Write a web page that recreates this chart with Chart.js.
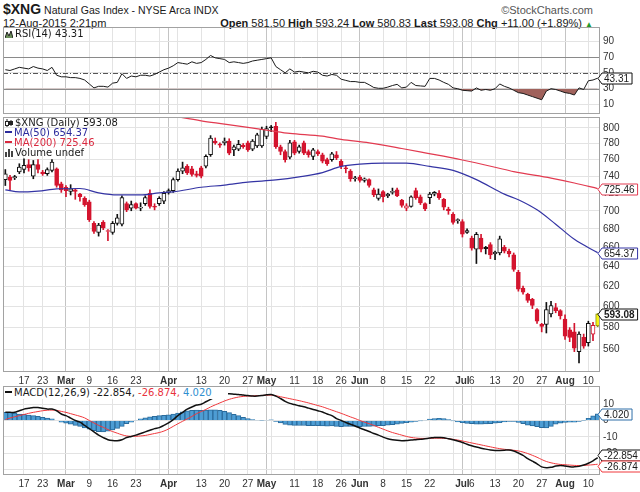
<!DOCTYPE html>
<html>
<head>
<meta charset="utf-8">
<title>$XNG Natural Gas Index</title>
<script src="https://cdn.jsdelivr.net/npm/chart.js@4.4.1/dist/chart.umd.min.js"></script>
<style>
body { margin: 0; background: #fff; }
#page { position: relative; width: 640px; height: 492px; overflow: hidden; font-family: "Liberation Sans", Arial, sans-serif; color: #1a1a1a; }
#page canvas { position: absolute; left: 0; }
.txt { position: absolute; white-space: nowrap; }
.leg { position: absolute; white-space: nowrap; font: 10px/10px "DejaVu Sans", sans-serif; color: #1a1a1a; z-index: 2; }
.leg svg { vertical-align: -1px; margin-right: 2px; }
.ln { display: inline-block; width: 7px; height: 2px; vertical-align: 3px; margin-right: 2px; }
</style>
</head>
<body>
<div id="page">
  <div class="txt" style="left:3px;top:1px;font-size:10.5px;"><b style="font-size:14px;">$XNG</b> Natural Gas Index - NYSE Arca INDX</div>
  <div class="txt" style="right:47px;top:4px;font-size:11px;color:#555;">©StockCharts.com</div>
  <div class="txt" style="left:3px;top:17px;font-size:11px;">12-Aug-2015 2:21pm</div>
  <div class="txt" style="right:47px;top:17px;font-size:11px;"><b>Open</b> 581.50 <b>High</b> 593.24 <b>Low</b> 580.83 <b>Last</b> 593.08 <b>Chg</b> +11.00 (+1.89%) <span style="color:#1e9a2c;font-size:8px;">▲</span></div>

  <canvas id="rsiChart" width="640" height="87" style="top:27px"></canvas>
  <canvas id="priceChart" width="640" height="270" style="top:117px"></canvas>
  <canvas id="macdChart" width="640" height="106" style="top:386px"></canvas>

  <div class="leg" style="left:5px;top:29px;">
    <svg width="8" height="8"><polyline points="0,8 2,2 4,6 6,1 8,8" fill="#6b8e5a" stroke="#222" stroke-width="1"/></svg>RSI(14) 43.31
  </div>
  <div class="leg" style="left:5px;top:118px;">
    <div><svg width="8" height="8"><line x1="2" y1="0" x2="2" y2="8" stroke="#222"/><rect x="0.5" y="2.5" width="3" height="4" fill="#fff" stroke="#222"/><line x1="6" y1="1" x2="6" y2="7" stroke="#222"/><rect x="4.5" y="2.5" width="3" height="3" fill="#222" stroke="#222"/></svg>$XNG (Daily) 593.08</div>
    <div style="color:#2b2b9c;"><span class="ln" style="background:#2b2b9c"></span>MA(50) 654.37</div>
    <div style="color:#d9283e;"><span class="ln" style="background:#d9283e"></span>MA(200) 725.46</div>
    <div><svg width="8" height="8"><rect x="0" y="3" width="2" height="5" fill="#444"/><rect x="3" y="0" width="2" height="8" fill="#444"/><rect x="6" y="2" width="2" height="6" fill="#444"/></svg>Volume undef</div>
  </div>
  <div class="leg" style="left:4px;top:387px;width:224px;height:12px;background:#fff;padding:1px 0 0 1px;box-sizing:border-box;">
    <span class="ln" style="background:#111"></span>MACD(12,26,9) -22.854, <span style="color:#e8323c">-26.874,</span> <span style="color:#2f8fd0">4.020</span>
  </div>
</div>

<script>
// --- trading days (categories) ---
const monthKeys = ['2015-02', '2015-03', '2015-04', '2015-05', '2015-06', '2015-07', '2015-08'];
const monthDays = [
  [10, 11, 12, 13, 17, 18, 19, 20, 23, 24, 25, 26, 27],
  [2, 3, 4, 5, 6, 9, 10, 11, 12, 13, 16, 17, 18, 19, 20, 23, 24, 25, 26, 27, 30, 31],
  [1, 2, 6, 7, 8, 9, 10, 13, 14, 15, 16, 17, 20, 21, 22, 23, 24, 27, 28, 29, 30],
  [1, 4, 5, 6, 7, 8, 11, 12, 13, 14, 15, 18, 19, 20, 21, 22, 26, 27, 28, 29],
  [1, 2, 3, 4, 5, 8, 9, 10, 11, 12, 15, 16, 17, 18, 19, 22, 23, 24, 25, 26, 29, 30],
  [1, 2, 6, 7, 8, 9, 10, 13, 14, 15, 16, 17, 20, 21, 22, 23, 24, 27, 28, 29, 30, 31],
  [3, 4, 5, 6, 7, 10, 11, 12]
];

// x axis tick labels
const tickDates = ['2015-02-17', '2015-02-23', '2015-03-02', '2015-03-09', '2015-03-16', '2015-03-23',
  '2015-04-01', '2015-04-13', '2015-04-20', '2015-04-27', '2015-05-01', '2015-05-11', '2015-05-18',
  '2015-05-26', '2015-06-01', '2015-06-08', '2015-06-15', '2015-06-22', '2015-07-01', '2015-07-06',
  '2015-07-13', '2015-07-20', '2015-07-27', '2015-08-03', '2015-08-10'];
const tickTexts = ['17', '23', 'Mar', '9', '16', '23', 'Apr', '13', '20', '27', 'May', '11', '18',
  '26', 'Jun', '8', '15', '22', 'Jul', '6', '13', '20', '27', 'Aug', '10'];

// --- price (OHLC) ---
const opens = [736,739,738,745,748,754,740,754,745,743, 747,749,731,727,722,724,719,714,710,686,
  676,687,677,676,686,685,708,703,708,703, 708,720,705,708,711,721,723,736,746,752,
  749,743,750,752,766,783,779,781,783,772, 773,778,781,773,777,777,789,801,802,776,
  770,763,782,770,781,770,764,770,766,760, 760,766,758,750,746,737,739,735,736,724,
  714,722,717,721,724,712,703,705,723,716, 708,715,719,720,713,702,696,689,688,676,
  670,658,670,660,663,653,654,660,656,652, 634,618,612,607,597,583,583,593,599,596,
  588,578,576,558,571,566,574,581.50];
const highs = [748,741,741,755,761,760,759,760,747,750, 760,750,733,729,730,725,720,716,712,688,
  686,689,679,688,696,717,710,711,709,709, 717,724,708,716,722,725,738,749,757,754,
  752,746,752,766,790,787,781,787,786,778, 784,780,783,785,793,801,802,803,807,778,
  772,784,784,778,783,772,774,772,768,762, 769,770,760,752,748,740,741,738,737,726,
  725,723,720,726,726,713,708,717,726,718, 709,721,722,723,714,704,698,691,690,680,
  672,676,674,661,665,656,672,662,658,654, 636,620,613,608,598,584,604,605,603,597,
  592,580,584,576,574,586,585,593.24];
const lows = [729,724,736,743,744,746,737,744,741,741, 745,727,721,716,718,713,711,705,688,675,
  672,679,667,674,684,683,699,700,702,700, 706,703,701,706,708,719,721,734,743,742,
  740,739,738,750,764,779,775,778,766,765, 771,774,770,771,775,775,786,795,774,766,
  757,761,766,768,766,763,760,765,756,753, 758,760,749,744,734,734,733,733,727,716,
  712,710,715,719,716,704,700,704,713,707, 700,708,717,713,701,696,685,686,671,675,
  657,643,655,653,648,647,652,654,650,635, 615,612,604,598,584,576,575,590,594,588,
  569,567,558,548,561,563,568,580.83];
const closes = [743,735,739.5,751,753,750,754,748,743,748, 757,729,724,723,725,722,716,707,690,677,
  684,681,678,686,692,715,701,707,703,704, 715,705,704,714,720,723,736,746,750,744,
  742,741,740,764,787,781,778,783,768,776, 779,776,772,783,791,798,799,800,776,770,
  760,781,768,776,768,766,772,767,758,755, 767,762,752,749,737,738,735,737,729,718,
  719,716,719,722,717,706,705.5,716,715,709, 702,719,721,715,704,700,687,690,674,678,
  659,674,658,658.5,652,655,669,656,653,637, 617,614,606,601,586,581,597,601,596,591,
  572,571,561,574,563,584,582.08,593.08];
const priceTicks = [560, 580, 600, 620, 640, 660, 680, 700, 720, 740, 760, 780, 800];

// moving averages, read at [day index, value]
const ma50Pts = [[0,724],[3,721.5],[7,722.5],[11,725],[16,725.5],[20,720.5],[24,718],[29,718],[33,720.5],
  [36,721.5],[42,727],[47,729.5],[52,733],[58,735.6],[63,739.2],[68,744.3],[72,751.8],[76,754.5],
  [81,755.7],[86,755.7],[91,751.8],[96,747],[101,736],[107,719],[110,712.5],[114,701],[118,685],
  [122,668.5],[127,654.37]];
const ma200Pts = [[36,815.2],[42,809],[47,804.8],[52,800.5],[57,796.1],[61,792.8],[68,789.3],[72,785.1],
  [78,780.8],[85,773.8],[90,768.4],[98,759.6],[105,750.8],[109,745.5],[117,737.8],[122,732],[127,725.46]];

// --- RSI(14) ---
const rsi = [54,53,55,57,56,55,58,56,55,53, 57,47,45,45,44,44,43,41,36,31,
  33,33,32,37,38,49,43,46,45,47, 47,46,48,51,54,56,59,63,62,61,
  64,62,63,67,72,69,68,67,63,64, 63,62,63,65,66,67,68,69,58,54,
  50,55,51,52,51,50,52,51,47,46, 48,47,42,40.5,39,39,38,38,35,31.5,
  30.5,30.5,32,34,35.5,31,32,38,34,33.5, 33,43,43,41,38,35.5,31,30,28,27.5,
  27,31,28,29,28,30,36,33,31,28, 25,24,22,20,18,16,27,30,29,27,
  25,24,22,31,29,40,41,43.31];
const rsiTicks = [10, 30, 50, 70, 90];

// --- MACD(12,26,9) ---
const macd = [5,5,5,6,7,7.5,8,8,7.5,7, 7,6,4,3,1.5,0,-1,-3,-5,-7,
  -9,-10.5,-11.8,-12.3,-12.4,-11.8,-10.5,-9.8,-9,-8, -7,-6,-5,-4.4,-3,-1.5,0.5,3,5,7,
  8.3,9.5,10,11.5,13,14.5,15.5,16.3,16.4,16.2, 16,15.6,15.3,15,15,15.3,15.8,16,15,13.5,
  11.8,10.5,9.8,9,8.4,7.6,6.8,6,5.2,4, 3,1.2,0,-1.2,-2.3,-3.4,-4.6,-5.7,-6.8,-8,
  -9,-10.2,-11.2,-11.8,-12.2,-12.4,-12.3,-12,-11.8,-11.6, -11.2,-10.8,-10.4,-10.5,-10.6,-11.2,-11.8,-12.6,-13.5,-14.6,
  -15.5,-16.3,-17,-17.6,-18.1,-18.4,-18.4,-18.3,-18.1,-18.8, -20,-21.5,-23.4,-25,-26.6,-28.5,-29,-28.8,-28,-27.6,
  -28,-28.4,-28.5,-28.2,-27.4,-26.3,-24.8,-22.854];
const signal = [0.6,1.5,2.3,3,3.7,4.4,5,5.5,6,6.3, 6.4,6.2,5.6,5,4.2,3.4,2.6,1.6,0,-1.5,
  -3,-4.2,-5.6,-6.8,-7.8,-8.8,-9.5,-9.7,-9.7,-9.5, -9.2,-8.6,-8,-7.4,-6.5,-5.2,-3.6,-2,-0.5,1,
  2.5,4.2,5.5,6.8,8.3,9.6,10.8,12,13,13.8, 14.4,14.8,15,15.1,15.3,15.4,15.5,15.6,15.2,14.6,
  14,13.4,12.8,12.2,11.5,10.8,10,9.2,8.4,7.4, 6.4,5.4,4.4,3.3,2.2,1.2,0,-1,-2,-3,
  -4.2,-5.3,-6.4,-7.4,-8.2,-9,-9.8,-10.4,-10.8,-11, -11,-11,-10.9,-10.9,-11,-11.2,-11.6,-12,-12.6,-13.2,
  -13.8,-14.4,-15,-15.6,-16.2,-16.8,-17.3,-17.7,-18,-18.3, -18.7,-19.4,-20.3,-21.4,-22.6,-24,-25.2,-26,-26.6,-27,
  -27.2,-27.4,-27.6,-27.7,-27.6,-27.4,-27.2,-26.874];
const hist = [5,5,4.5,4,3.8,3.4,3,2.6,2,1.5, 1,0,-1,-1.6,-2.2,-3,-3.6,-4.6,-5.4,-6.2,
  -6.8,-7,-6.6,-5.8,-4.8,-3.6,-2,-1,0.3,1, 1.6,2.2,2.6,3,3.2,3.5,4,4.6,5.4,6,
  6.2,6.4,6.2,6.4,6.6,6.6,6.2,5.6,4.8,3.8, 3,2,1.2,0.6,0.3,0.2,0.3,0.4,-0.5,-1.5,
  -2.4,-2.9,-3,-3.1,-3.1,-3.2,-3.2,-3.2,-3.3,-3.5, -3.4,-3.6,-3.8,-3.6,-3.6,-3.6,-3.8,-3.7,-3.6,-3.5,
  -3.2,-3.2,-2.8,-2.6,-2.2,-1.8,-1.4,-1,-0.6,-0.2, 0.3,0.8,1.2,1.4,1.1,0.6,-0.2,-0.8,-1.4,-1.8,
  -2,-2.2,-2.2,-2.1,-2,-1.7,-1.3,-0.8,-0.5,-0.6, -1.2,-2,-2.8,-3.4,-3.8,-4.4,-4.6,-3.6,-2.2,-1.6,
  -1.2,-1,-1,-0.6,0.2,1.4,2.8,4.02];
const macdTicks = [-30, -20, -10, 0, 10];

// ---------------------------------------------------------------
const dates = [];
monthKeys.forEach((m, k) => monthDays[k].forEach(d => dates.push(m + '-' + String(d).padStart(2, '0'))));
const N = dates.length;

const dow = dates.map(d => new Date(d + 'T00:00:00Z').getUTCDay());
// 2 = first day of month, 1 = first day of week
const gridKind = dates.map((d, i) => {
  if (i === 0) return 0;
  if (d.slice(0, 7) !== dates[i - 1].slice(0, 7)) return 2;
  return dow[i] < dow[i - 1] ? 1 : 0;
});
const labelAt = dates.map(d => { const k = tickDates.indexOf(d); return k < 0 ? '' : tickTexts[k]; });

function sparse(pts) {
  const a = new Array(N).fill(null);
  pts.forEach(p => { a[p[0]] = p[1]; });
  return a;
}

const RED = '#d4142e', BLACK = '#111111';
const edge = closes.map((c, i) => (i > 0 && c < closes[i - 1]) ? RED : BLACK);
const fill = closes.map((c, i) => c >= opens[i] ? '#ffffff' : edge[i]);
fill[N - 1] = '#f4f414'; // latest bar highlighted
edge[N - 1] = '#8c8c10';

Chart.defaults.font.family = '"Liberation Sans", Arial, sans-serif';
Chart.defaults.font.size = 10;
Chart.defaults.color = '#333';
Chart.defaults.animation = false;
Chart.defaults.plugins.legend.display = false;
Chart.defaults.plugins.tooltip.enabled = false;

function xAxis(showLabels, h) {
  return {
    type: 'category',
    offset: true,
    grid: {
      offset: false, drawTicks: false, lineWidth: 1,
      color: c => gridKind[c.index] === 2 ? '#c4c4c4' : (gridKind[c.index] === 1 ? '#e3e3e3' : 'rgba(0,0,0,0)')
    },
    border: { display: false },
    ticks: {
      display: showLabels, autoSkip: false, maxRotation: 0, minRotation: 0, padding: 3, color: '#333',
      font: c => ({ size: 10, weight: /[A-Z]/.test(labelAt[c.index] || '') ? 'bold' : 'normal' }),
      callback: (v, i) => labelAt[i]
    },
    afterFit: s => { s.height = h; s.paddingLeft = 0; s.paddingRight = 0; }
  };
}

function yAxis(type, min, max, ticks) {
  return {
    type: type, min: min, max: max, bounds: 'data', position: 'right',
    grid: { drawTicks: false, color: '#e3e3e3' },
    border: { display: false },
    ticks: { padding: 3, color: '#333', callback: v => String(v) },
    afterBuildTicks: s => { s.ticks = ticks.map(v => ({ value: v })); },
    afterFit: s => { s.width = 40; s.paddingTop = 0; s.paddingBottom = 0; }
  };
}

const framePlugin = {
  id: 'frame',
  afterDatasetsDraw(chart) {
    const a = chart.chartArea, ctx = chart.ctx;
    ctx.save();
    ctx.strokeStyle = '#a2a2a2';
    ctx.lineWidth = 1;
    ctx.strokeRect(Math.round(a.left) + 0.5, Math.round(a.top) + 0.5, Math.round(a.width) - 1, Math.round(a.height) - 1);
    ctx.restore();
  }
};

const levelPlugin = {
  id: 'levels',
  beforeDatasetsDraw(chart, args, opts) {
    const a = chart.chartArea, ctx = chart.ctx, y = chart.scales.y;
    (opts.items || []).forEach(l => {
      const py = Math.round(y.getPixelForValue(l.value)) + 0.5;
      ctx.save();
      ctx.strokeStyle = l.color;
      ctx.lineWidth = 1;
      ctx.setLineDash(l.dash || []);
      ctx.beginPath(); ctx.moveTo(a.left, py); ctx.lineTo(a.right, py); ctx.stroke();
      ctx.restore();
    });
  }
};

function drawTag(ctx, x, y, t) {
  ctx.font = (t.bold ? 'bold ' : '') + '10px "Liberation Sans", Arial, sans-serif';
  const w = ctx.measureText(t.text).width + 5, h = 11;
  ctx.beginPath();
  ctx.moveTo(x, y);
  ctx.lineTo(x + 4, y - h / 2);
  ctx.lineTo(x + 4 + w, y - h / 2);
  ctx.lineTo(x + 4 + w, y + h / 2);
  ctx.lineTo(x + 4, y + h / 2);
  ctx.closePath();
  ctx.fillStyle = '#fff';
  ctx.fill();
  ctx.strokeStyle = t.color;
  ctx.lineWidth = 1;
  ctx.stroke();
  ctx.fillStyle = '#1a1a1a';
  ctx.textAlign = 'left';
  ctx.textBaseline = 'middle';
  ctx.fillText(t.text, x + 6, y + 0.5);
}

const tagPlugin = {
  id: 'tags',
  afterDraw(chart, args, opts) {
    const ctx = chart.ctx, y = chart.scales.y, x0 = chart.chartArea.right - 2;
    const items = (opts.items || []).map(t => Object.assign({ py: y.getPixelForValue(t.value) }, t))
      .sort((a, b) => a.py - b.py);
    for (let k = 1; k < items.length; k++) {
      const gap = items[k].py - items[k - 1].py;
      if (gap < 11) { const d = (11 - gap) / 2; items[k - 1].py -= d; items[k].py += d; }
    }
    ctx.save();
    items.forEach(t => drawTag(ctx, x0, Math.round(t.py) + 0.5, t));
    ctx.restore();
  }
};

const basePadding = { left: 3, right: 0, top: 0, bottom: 0 };

// --- RSI panel ---
new Chart(document.getElementById('rsiChart'), {
  type: 'line',
  data: {
    labels: dates,
    datasets: [{
      data: rsi, borderColor: '#1a1a1a', borderWidth: 1, pointRadius: 0, tension: 0,
      fill: { target: { value: 30 }, above: 'rgba(0,0,0,0)', below: '#a0625c' }
    }]
  },
  options: {
    responsive: false,
    layout: { padding: basePadding },
    scales: { x: xAxis(false, 0), y: yAxis('linear', -2, 108, rsiTicks) },
    plugins: {
      levels: { items: [
        { value: 70, color: '#8a8a8a' },
        { value: 50, color: '#555', dash: [5, 2, 1, 2] },
        { value: 30, color: '#8a8a8a' }
      ] },
      tags: { items: [{ value: rsi[N - 1], text: rsi[N - 1].toFixed(2), color: '#111' }] }
    }
  },
  plugins: [levelPlugin, framePlugin, tagPlugin]
});

// --- price panel ---
const ma50 = sparse(ma50Pts), ma200 = sparse(ma200Pts);
new Chart(document.getElementById('priceChart'), {
  type: 'bar',
  data: {
    labels: dates,
    datasets: [
      { type: 'line', data: ma50, borderColor: '#3434a4', borderWidth: 1.2, pointRadius: 0,
        spanGaps: true, cubicInterpolationMode: 'monotone', order: 0 },
      { type: 'line', data: ma200, borderColor: '#e23a50', borderWidth: 1.2, pointRadius: 0,
        spanGaps: true, cubicInterpolationMode: 'monotone', order: 0 },
      { data: opens.map((o, i) => [o, closes[i]]), backgroundColor: fill, borderColor: edge,
        borderWidth: 1, borderSkipped: false, barThickness: 4, minBarLength: 1, grouped: false, order: 1 },
      { data: lows.map((l, i) => [l, highs[i]]), backgroundColor: edge, barThickness: 1,
        grouped: false, order: 2 }
    ]
  },
  options: {
    responsive: false,
    layout: { padding: basePadding },
    scales: { x: xAxis(true, 15), y: yAxis('logarithmic', 540, 814, priceTicks) },
    plugins: {
      tags: { items: [
        { value: ma200Pts[ma200Pts.length - 1][1], text: ma200Pts[ma200Pts.length - 1][1].toFixed(2), color: '#e23a50' },
        { value: ma50Pts[ma50Pts.length - 1][1], text: ma50Pts[ma50Pts.length - 1][1].toFixed(2), color: '#3434a4' },
        { value: closes[N - 1], text: closes[N - 1].toFixed(2), color: '#111', bold: true }
      ] }
    }
  },
  plugins: [framePlugin, tagPlugin]
});

// --- MACD panel ---
new Chart(document.getElementById('macdChart'), {
  type: 'bar',
  data: {
    labels: dates,
    datasets: [
      { type: 'line', data: macd, borderColor: '#111', borderWidth: 1.5, pointRadius: 0, tension: 0.3, order: 0 },
      { type: 'line', data: signal, borderColor: '#f0383c', borderWidth: 1, pointRadius: 0, tension: 0.3, order: 0 },
      { data: hist, backgroundColor: '#4d9dd4', borderColor: '#2a6b9c', borderWidth: 1,
        barPercentage: 1, categoryPercentage: 1, order: 1 }
    ]
  },
  options: {
    responsive: false,
    layout: { padding: basePadding },
    scales: { x: xAxis(true, 17), y: yAxis('linear', -33.5, 21.2, macdTicks) },
    plugins: {
      tags: { items: [
        { value: hist[N - 1], text: hist[N - 1].toFixed(3), color: '#2f6fa8' },
        { value: macd[N - 1], text: macd[N - 1].toFixed(3), color: '#111' },
        { value: signal[N - 1], text: signal[N - 1].toFixed(3), color: '#f0383c' }
      ] }
    }
  },
  plugins: [framePlugin, tagPlugin]
});
</script>
</body>
</html>
